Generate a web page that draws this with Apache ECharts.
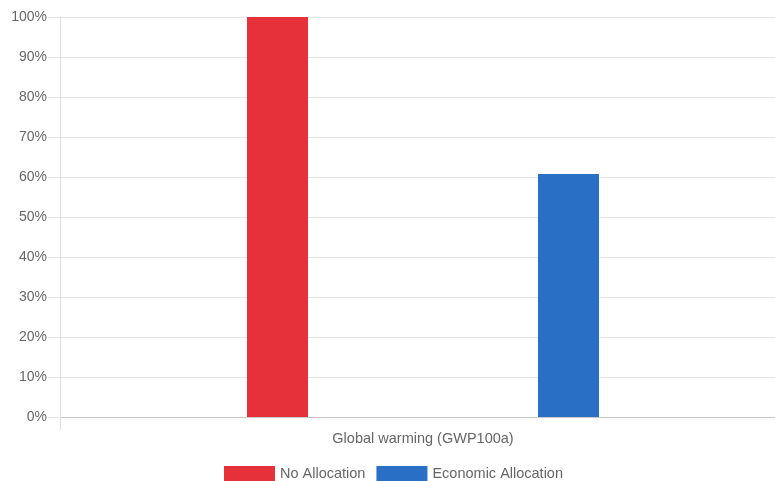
<!DOCTYPE html>
<html>
<head>
<meta charset="utf-8">
<script src="https://cdn.jsdelivr.net/npm/echarts@6/dist/echarts.min.js"></script>
<style>
    html, body {margin:0;padding:0;background:#fff}
    #chart {width:775px;height:481px}
</style>
</head>
<body>
<div id="chart"></div>
<script>
    // data
    var categories = ['Global warming (GWP100a)'];
    var seriesNames = ['No Allocation', 'Economic Allocation'];
    var noAllocation = [100];
    var economicAllocation = [60.75];
    var colors = ['#e6313a', '#2a6fc6'];

    var chart = echarts.init(document.getElementById('chart'));
    var option = {
        animation: false,
        textStyle: {fontFamily: 'Liberation Sans, Arial, sans-serif'},
        grid: {left: 60, width: 726, top: 17, bottom: 64, outerBoundsMode: 'none'},
        legend: {
            top: 461,
            left: 219,
            itemWidth: 51,
            itemHeight: 16,
            itemGap: 11,
            icon: 'rect',
            textStyle: {color: '#666', fontSize: 14.5},
            data: seriesNames
        },
        xAxis: {
            type: 'category',
            data: categories,
            axisLine: {lineStyle: {color: '#c8c8c8', width: 1}},
            axisTick: {show: true, length: 13, lineStyle: {color: '#e0e0e0'}},
            axisLabel: {color: '#666', fontSize: 14.5, margin: 14},
            splitLine: {show: false}
        },
        yAxis: {
            type: 'value',
            min: 0,
            max: 100,
            interval: 10,
            axisLine: {show: true, lineStyle: {color: '#e0e0e0'}},
            axisTick: {show: true, length: 12, lineStyle: {color: '#e6e6e6'}},
            axisLabel: {color: '#666', fontSize: 14, margin: 13, formatter: '{value}%'},
            splitLine: {lineStyle: {color: '#e6e6e6'}}
        },
        series: [
            {
                name: seriesNames[0],
                type: 'bar',
                data: noAllocation,
                barWidth: 61,
                barGap: '377%',
                itemStyle: {color: colors[0]}
            },
            {
                name: seriesNames[1],
                type: 'bar',
                data: economicAllocation,
                barWidth: 61,
                itemStyle: {color: colors[1]}
            }
        ]
    };
    chart.setOption(option);
</script>
</body>
</html>
